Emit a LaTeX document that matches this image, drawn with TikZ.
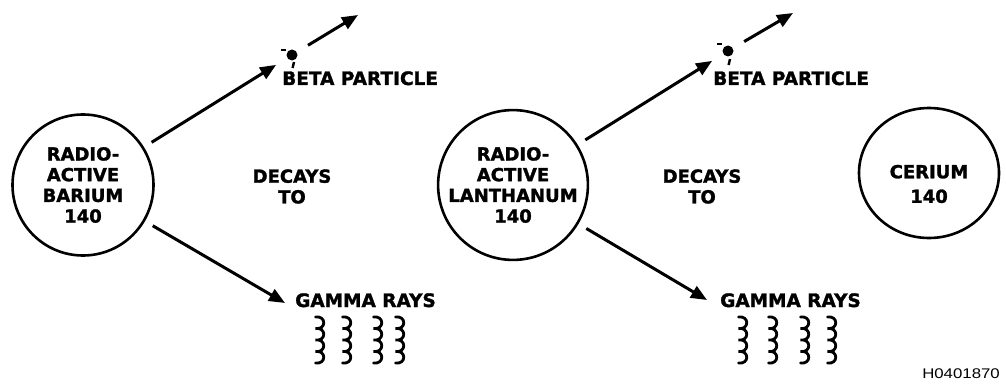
\documentclass[tikz,border=0pt]{standalone}
\usepackage{fontspec}
\setmainfont{Liberation Sans}
\newfontfamily\labfam{DejaVu Sans}[BoldFeatures={FakeBold=1.5}]
\newcommand\labfont{\labfam\bfseries\fontsize{18}{20.7}\selectfont}
\newcommand\widefont{\labfam\bfseries\fontsize{18.5}{20.7}\selectfont}
\newcommand\cefont{\labfam\bfseries\fontsize{18}{24.6}\selectfont}
\usetikzlibrary{arrows.meta,shapes.geometric}
\newcommand\wiggle[2]{\draw[ray] (#1,#2) \foreach \k in {0,...,3}{ .. controls +(11,-1.5) and +(11,1.5) .. ++(0,11.5) };}
\begin{document}
\begin{tikzpicture}[x=1pt,y=-1pt,
  lbl/.style={font=\labfont, inner sep=0pt, align=center},
  ring/.style={draw, line width=2.6pt, circle, minimum size=141pt, inner sep=0pt, font=\labfont, align=center},
  arr/.style={line width=3pt, -{Triangle[length=16pt,width=13pt]}},
  ray/.style={line width=2.8pt, line cap=round},
  tick/.style={line width=2.4pt},
  electron/.style={circle, fill, minimum size=11pt, inner sep=0pt}]
\useasboundingbox (0,0) rectangle (1006,385);

% ---- left group ----
\node[ring] (ba) at (83,185) {RADIO-\\ACTIVE\\BARIUM\\140};
\node[lbl] (d1) at (292,186.5) {DECAYS\\TO};
\node[electron] (dot1) at (292,55) {};
\draw[tick] (281,50) -- (286,50);
\draw[tick] (294,62) -- (292.6,68);
\node[lbl, font=\widefont, anchor=base west] (bp1) at (282,85) {BETA PARTICLE};
\node[lbl, font=\widefont, anchor=base west] (gr1) at (295,307) {GAMMA RAYS};
\coordinate (b1end) at (358,15);
\coordinate (g1tip) at (285,303);
\draw[arr, shorten <=9pt, shorten >=13pt] (ba) -- (dot1);
\draw[arr, shorten <=13pt] (dot1) -- (b1end);
\draw[arr, shorten <=9pt] (ba) -- (g1tip);
\wiggle{315.5}{317}
\wiggle{342.5}{317}
\wiggle{373.5}{317}
\wiggle{395.5}{317}

% ---- middle group ----
\node[ring] (la) at (513,185) {RADIO-\\ACTIVE\\LANTHANUM\\140};
\node[lbl] (d2) at (702,186.5) {DECAYS\\TO};
\node[electron] (dot2) at (728,51) {};
\draw[tick] (717,44) -- (722,44);
\draw[tick] (730,59) -- (728.6,65);
\node[lbl, font=\widefont, anchor=base west] (bp2) at (713,85) {BETA PARTICLE};
\node[lbl, font=\widefont, anchor=base west] (gr2) at (720,307) {GAMMA RAYS};
\coordinate (b2end) at (793,13);
\coordinate (g2tip) at (707,300);
\draw[arr, shorten <=9pt, shorten >=13pt] (la) -- (dot2);
\draw[arr, shorten <=13pt] (dot2) -- (b2end);
\draw[arr, shorten <=9pt] (la) -- (g2tip);
\wiggle{738.5}{317}
\wiggle{768.5}{317}
\wiggle{800.5}{317}
\wiggle{827.5}{317}

% ---- right ----
\node[draw, line width=2.6pt, ellipse, minimum width=140pt, minimum height=130pt, inner sep=0pt] (ce) at (929,173) {};
\node[lbl, font=\cefont] (cet) at (929,184) {CERIUM\\140};

\node[anchor=base east, inner sep=0pt] (id) at (1000,378) {\scalebox{1.2}[1]{\fontsize{14}{16}\selectfont H0401870}};
\end{tikzpicture}
\end{document}
